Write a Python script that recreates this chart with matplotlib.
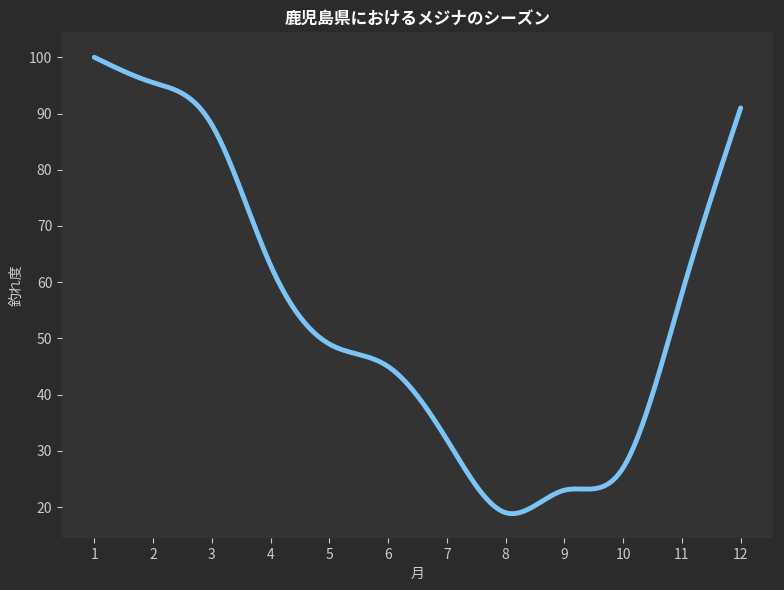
import numpy as np
import matplotlib
matplotlib.use("Agg")
import matplotlib.pyplot as plt

plt.rcParams['font.family'] = ['Noto Sans CJK JP', 'DejaVu Sans']

months = [1, 2, 3, 4, 5, 6, 7, 8, 9, 10, 11, 12]
scores = [100, 95.5, 88, 63, 49, 45, 32, 19, 23, 27, 58, 91]

def natural_spline(x, y, xs):
    x = np.asarray(x, float); y = np.asarray(y, float)
    n = len(x); h = np.diff(x)
    A = np.zeros((n, n)); b = np.zeros(n)
    A[0, 0] = A[-1, -1] = 1
    for i in range(1, n - 1):
        A[i, i - 1] = h[i - 1]; A[i, i] = 2 * (h[i - 1] + h[i]); A[i, i + 1] = h[i]
        b[i] = 6 * ((y[i + 1] - y[i]) / h[i] - (y[i] - y[i - 1]) / h[i - 1])
    M = np.linalg.solve(A, b)
    idx = np.clip(np.searchsorted(x, xs) - 1, 0, n - 2)
    x0, x1 = x[idx], x[idx + 1]; hh = x1 - x0
    return (M[idx] * (x1 - xs) ** 3 / (6 * hh) + M[idx + 1] * (xs - x0) ** 3 / (6 * hh)
            + (y[idx] / hh - M[idx] * hh / 6) * (x1 - xs) + (y[idx + 1] / hh - M[idx + 1] * hh / 6) * (xs - x0))

xs = np.linspace(1, 12, 500)
ys = natural_spline(months, scores, xs)

fig = plt.figure(figsize=(7.84, 5.90), dpi=100, facecolor='#2b2b2b')
ax = fig.add_axes([62/784, 52/590, 711/784, 506/590])
ax.set_facecolor('#333333')
ax.plot(xs, ys, color='#7cc4f5', lw=3.5, solid_capstyle='round')
ax.set_xlim(0.45, 12.55)
ax.set_ylim(14.5, 104.5)
ax.set_xticks(months)
ax.set_yticks(range(20, 101, 10))
for s in ax.spines.values():
    s.set_visible(False)
ax.tick_params(colors='#cccccc', labelsize=10)
ax.set_xlabel('月', color='#cccccc', fontsize=10)
ax.set_ylabel('釣れ度', color='#cccccc', fontsize=10)
ax.set_title('鹿児島県におけるメジナのシーズン', color='white', fontsize=12, fontweight='bold', pad=6)
fig.savefig('out.png', dpi=100, facecolor=fig.get_facecolor())
